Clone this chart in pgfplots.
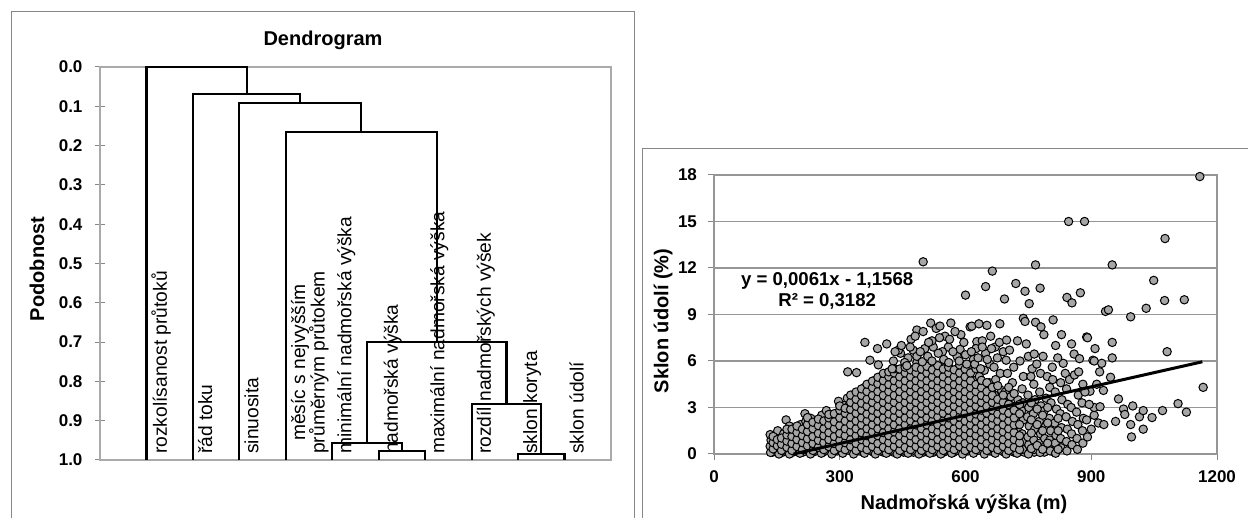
\documentclass[border=0pt]{standalone}
\usepackage{fontspec}
\setmainfont{Liberation Sans}
\usepackage{pgfplots}
\pgfplotsset{compat=1.18}
\definecolor{framegray}{RGB}{135,135,135}
\definecolor{boxgray}{RGB}{170,170,170}
\definecolor{gridgray}{RGB}{150,150,150}
\definecolor{dotfill}{RGB}{166,166,166}

\newcommand{\ticksfont}{\fontsize{8.5pt}{10pt}\selectfont\bfseries}
\newcommand{\labfont}{\fontsize{10pt}{12pt}\selectfont\bfseries}
\newcommand{\leaffont}{\fontsize{9.6pt}{9.8pt}\selectfont}

\pgfplotsset{scatterbox/.style={
    at={(357pt,32pt)}, anchor=south west,
    scale only axis, width=251.5pt, height=139.5pt,
    xmin=0, xmax=1200, ymin=0, ymax=18, clip=false}}

\begin{document}
\begin{tikzpicture}
\path[use as bounding box] (0,0) rectangle (624pt,259pt);

% frames, titles and axis names (1 unit = 1 pixel of the reference)
\begin{scope}[x=0.5pt,y=-0.5pt,yshift=259pt]
  \draw[framegray, line width=0.5pt] (11,540) -- (11,12) -- (634,12) -- (634,540);
  \draw[framegray, line width=0.5pt] (642,540) -- (642,149) -- (1260,149);
  \node[font=\labfont] at (323,40) {Dendrogram};
  \node[font=\labfont, rotate=90] at (37,269) {Podobnost};
  \node[font=\labfont, rotate=90] at (663,321) {Sklon údolí (\%)};
  \node[font=\labfont] at (964,504) {Nadmořská výška (m)};
\end{scope}

% dendrogram
\begin{axis}[
    at={(50pt,29pt)}, anchor=south west,
    scale only axis, width=255.5pt, height=196.5pt,
    xmin=0, xmax=11, ymin=0, ymax=1,
    y dir=reverse,
    xtick=\empty,
    ytick={0,0.1,0.2,0.3,0.4,0.5,0.6,0.7,0.8,0.9,1.0},
    yticklabel style={font=\ticksfont, xshift=-3pt, /pgf/number format/.cd, fixed, fixed zerofill, precision=1, assume math mode=true},
    tick align=center, major tick length=4.5pt,
    ytick pos=left,
    tick style={framegray, line width=0.5pt},
    axis line style={boxgray, line width=0.6pt},
    clip=false,
    dend/.style={black, line width=1.1pt, line join=miter},
]
\addplot[dend] coordinates {(9,1) (9,0.984) (10,0.984) (10,1)};
\addplot[dend] coordinates {(8,1) (8,0.857) (9.5,0.857) (9.5,0.984)};
\addplot[dend] coordinates {(6,1) (6,0.977) (7,0.977) (7,1)};
\addplot[dend] coordinates {(5,1) (5,0.957) (6.5,0.957) (6.5,0.977)};
\addplot[dend] coordinates {(5.75,0.957) (5.75,0.699) (8.75,0.699) (8.75,0.857)};
\addplot[dend] coordinates {(4,1) (4,0.166) (7.25,0.166) (7.25,0.699)};
\addplot[dend] coordinates {(3,1) (3,0.092) (5.625,0.092) (5.625,0.166)};
\addplot[dend] coordinates {(2,1) (2,0.069) (4.3125,0.069) (4.3125,0.092)};
\addplot[dend] coordinates {(1,1) (1,0) (3.15625,0) (3.15625,0.069)};

\begin{scope}[every node/.style={rotate=90, anchor=north west, inner sep=0pt, font=\leaffont}]
\node at (axis cs:1.1,0.985) {rozkolísanost průtoků};
\node at (axis cs:2.1,0.985) {řád toku};
\node at (axis cs:3.1,0.985) {sinuosita};
\node[align=center] at (axis cs:4.1,0.985) {měsíc s nejvyšším\\průměrným průtokem};
\node at (axis cs:5.1,0.985) {minimální nadmořská výška};
\node at (axis cs:6.1,0.985) {nadmořská výška};
\node at (axis cs:7.1,0.985) {maximální nadmořská výška};
\node at (axis cs:8.1,0.985) {rozdíl nadmořských výšek};
\node at (axis cs:9.1,0.985) {sklon koryta};
\node at (axis cs:10.1,0.985) {sklon údolí};
\end{scope}
\end{axis}

% scatter
\begin{axis}[
    scatterbox,
    xtick={0,300,600,900,1200},
    ytick={0,3,6,9,12,15,18},
    xtick pos=left, ytick pos=left,
    tick align=outside, major tick length=3pt,
    tick style={framegray, line width=0.5pt},
    ymajorgrids, grid style={gridgray, line width=0.6pt},
    axis line style={gridgray, line width=0.6pt},
    ticklabel style={font=\ticksfont},
    yticklabel style={xshift=-2pt},
    xticklabel style={yshift=-2pt},
    /pgf/number format/assume math mode=true,
    /pgf/number format/1000 sep={},
]
\addplot[only marks, mark=*, mark size=2.1pt, mark options={fill=dotfill, draw=black, line width=0.5pt}] coordinates {
(140,0.12)(152,0.32)(164,0.12)(176,0.32)(188,0.12)(200,0.32)(212,0.12)(224,0.32)(236,0.12)(248,0.32)
(260,0.12)(272,0.32)(284,0.12)(296,0.32)(308,0.12)(320,0.32)(332,0.12)(344,0.32)(356,0.12)(368,0.32)
(380,0.12)(392,0.32)(404,0.12)(416,0.32)(428,0.12)(440,0.32)(452,0.12)(464,0.32)(476,0.12)(488,0.32)
(500,0.12)(512,0.32)(524,0.12)(536,0.32)(548,0.12)(560,0.32)(572,0.12)(584,0.32)(596,0.12)(608,0.32)
(620,0.12)(632,0.32)(644,0.12)(656,0.32)(668,0.12)(680,0.32)(692,0.12)(704,0.32)(716,0.12)(728,0.32)
(740,0.12)(752,0.32)(764,0.12)(776,0.32)(788,0.12)(800,0.32)(812,0.12)
(135,0.1)(134,0.5)(136,0.9)(134,1.25)
(145,0.3)(146,0.7)(144,1.1)
(155,0.0)(156,0.4)(154,0.8)(152,1.5)
(168,0.2)(167,0.6)(169,1.0)(166,1.3)(172,2.2)
(180,0.0)(181,0.45)(179,0.9)(182,1.4)(180,1.8)
(192,0.25)(193,0.7)(191,1.15)(194,1.6)
(205,0.05)(204,0.5)(206,0.95)(203,1.35)(207,1.9)
(217,0.3)(218,0.75)(216,1.2)(217,2.6)(219,2.1)
(230,0.0)(231,0.45)(229,0.9)(232,1.4)(228,1.85)(231,2.3)
(243,0.2)(242,0.65)(244,1.1)(241,1.6)(245,2.05)
(256,0.05)(257,0.5)(255,0.95)(258,1.4)(254,1.9)(257,2.5)
(268,0.25)(267,0.7)(269,1.15)(266,1.65)(270,2.1)(268,2.8)
(281,0.0)(282,0.45)(280,0.9)(283,1.4)(279,1.85)(282,2.35)
(294,0.2)(293,0.65)(295,1.1)(292,1.6)(296,2.1)(293,2.6)(297,3.4)
(307,0.05)(308,0.5)(306,0.95)(309,1.4)(305,1.9)(308,2.4)(306,2.9)(313,3.15)
(320,0.25)(319,0.7)(321,1.2)(318,1.65)(322,2.15)(319,2.65)(321,3.1)(318,3.6)(319,5.3)
(333,0.0)(334,0.45)(332,0.95)(335,1.4)(331,1.9)(334,2.4)(332,2.85)(335,3.3)(331,3.8)(340,5.25)
(346,0.2)(345,0.7)(347,1.15)(344,1.65)(348,2.1)(345,2.6)(347,3.05)(344,3.55)(348,4.0)
(359,0.05)(360,0.5)(358,0.95)(361,1.4)(357,1.9)(360,2.35)(358,2.85)(361,3.3)(357,3.8)(360,4.3)(360,7.2)
(372,0.25)(371,0.7)(373,1.2)(370,1.65)(374,2.15)(371,2.6)(373,3.1)(370,3.55)(374,4.05)(371,4.5)(372,6.05)
(385,0.0)(386,0.45)(384,0.95)(387,1.4)(383,1.9)(386,2.4)(384,2.85)(387,3.35)(383,3.8)(386,4.3)(384,4.75)
(392,5.75)(390,6.8)
(398,0.2)(397,0.7)(399,1.15)(396,1.65)(400,2.1)(397,2.6)(399,3.1)(396,3.55)(400,4.05)(397,4.5)(399,5.0)
(411,0.05)(412,0.5)(410,0.95)(413,1.4)(409,1.9)(412,2.35)(410,2.85)(413,3.3)(409,3.8)(412,4.25)(410,4.75)(412,7.1)
(424,0.25)(423,0.7)(425,1.2)(422,1.65)(426,2.15)(423,2.6)(425,3.1)(422,3.55)(426,4.05)(423,4.5)(425,5.0)(428,6.0)
(437,0.0)(438,0.45)(436,0.95)(439,1.4)(435,1.9)(438,2.4)(436,2.85)(439,3.35)(435,3.8)(438,4.3)(436,4.75)(439,5.25)
(450,0.2)(449,0.7)(451,1.15)(448,1.65)(452,2.1)(449,2.6)(451,3.1)(448,3.55)(452,4.05)(449,4.5)(451,5.0)(448,5.5)
(463,0.05)(464,0.5)(462,0.95)(465,1.4)(461,1.9)(464,2.35)(462,2.85)(465,3.3)(461,3.8)(464,4.25)(462,4.75)(465,5.2)(463,6.2)
(476,0.25)(475,0.7)(477,1.2)(474,1.65)(478,2.15)(475,2.6)(477,3.1)(474,3.55)(478,4.05)(475,4.5)(477,5.0)(474,5.45)(475,6.7)
(489,0.0)(490,0.45)(488,0.95)(491,1.4)(487,1.9)(490,2.4)(488,2.85)(491,3.35)(487,3.8)(490,4.3)(488,4.75)(491,5.25)(484,5.9)(484,6.3)(484,8.0)
(502,0.2)(501,0.7)(503,1.15)(500,1.65)(504,2.1)(501,2.6)(503,3.1)(500,3.55)(504,4.05)(501,4.5)(503,5.0)(500,5.45)(503,6.8)(499,7.9)(499,12.4)
(515,0.05)(516,0.5)(514,0.95)(517,1.4)(513,1.9)(516,2.35)(514,2.85)(517,3.3)(513,3.8)(516,4.25)(514,4.75)(517,5.2)(527,5.6)(517,8.45)
(528,0.25)(527,0.7)(529,1.2)(526,1.65)(530,2.15)(527,2.6)(529,3.1)(526,3.55)(530,4.05)(527,4.5)(529,5.0)(526,5.45)(523,6.9)(530,8.1)
(541,0.0)(542,0.45)(540,0.95)(543,1.4)(539,1.9)(542,2.4)(540,2.85)(543,3.35)(539,3.8)(542,4.3)(540,4.75)(543,5.25)(551,5.95)(539,8.25)
(554,0.2)(553,0.7)(555,1.15)(552,1.65)(556,2.1)(553,2.6)(555,3.1)(552,3.55)(556,4.05)(553,4.5)(555,5.0)(552,5.5)(551,7.6)
(567,0.05)(568,0.5)(566,0.95)(569,1.4)(565,1.9)(568,2.35)(566,2.85)(569,3.3)(565,3.8)(568,4.25)(566,4.75)(569,5.2)(559,6.9)(565,8.45)
(580,0.25)(579,0.7)(581,1.2)(578,1.65)(582,2.15)(579,2.6)(581,3.1)(578,3.55)(582,4.05)(579,4.5)(581,5.0)(578,5.45)(580,6.3)
(593,0.0)(594,0.45)(592,0.95)(595,1.4)(591,1.9)(594,2.4)(592,2.85)(595,3.35)(591,3.8)(594,4.3)(592,4.75)(595,5.25)(587,6.75)(589,7.7)
(606,0.2)(605,0.7)(607,1.15)(604,1.65)(608,2.1)(605,2.6)(607,3.1)(604,3.55)(608,4.05)(605,4.5)(607,5.0)(604,5.6)(611,8.2)(600,10.25)
(619,0.05)(620,0.5)(618,0.95)(621,1.4)(617,1.9)(620,2.35)(618,2.85)(621,3.3)(617,3.8)(620,4.25)(618,4.75)(619,6.1)(615,8.25)(627,7.25)
(632,0.25)(631,0.7)(633,1.2)(630,1.65)(634,2.15)(631,2.6)(633,3.1)(630,3.55)(634,4.05)(631,4.5)(633,5.0)(640,7.3)(632,8.4)
(645,0.0)(646,0.45)(644,0.95)(647,1.4)(643,1.9)(646,2.4)(644,2.85)(647,3.35)(643,3.8)(646,4.3)(645,5.4)(648,6.5)(648,10.8)
(658,0.2)(657,0.7)(659,1.15)(656,1.65)(660,2.1)(657,2.6)(659,3.1)(656,3.55)(660,4.05)(657,4.6)(658,5.8)(651,8.3)(664,11.8)
(671,0.05)(672,0.5)(670,0.95)(673,1.4)(669,1.9)(672,2.35)(670,2.85)(673,3.3)(669,3.8)(672,4.8)(671,6.9)
(684,0.25)(683,0.7)(685,1.2)(682,1.65)(686,2.15)(683,2.6)(685,3.1)(682,3.55)(686,4.1)(683,5.2)(681,7.2)(682,8.4)
(697,0.0)(698,0.45)(696,0.95)(699,1.4)(695,1.9)(698,2.4)(696,2.85)(699,3.35)(695,4.0)(697,6.05)(698,7.35)(693,10.0)
(710,0.2)(709,0.7)(711,1.15)(708,1.65)(712,2.1)(709,2.6)(711,3.1)(708,3.7)(712,4.6)
(723,0.05)(724,0.5)(722,1.0)(725,1.5)(721,1.9)(724,2.5)(722,3.0)(725,3.5)(724,7.3)(720,11.0)
(736,0.3)(737,0.8)(735,1.3)(738,2.2)(734,2.8)(737,3.3)(735,4.2)(738,5.0)(738,8.75)
(742,10.5)(742,8.55)
(750,0.0)(751,0.6)(749,1.1)(752,1.8)(748,2.4)(751,3.0)(749,3.8)(750,6.3)(752,9.7)
(764,0.3)(763,0.9)(765,1.6)(762,2.6)(766,3.5)(763,4.5)(764,6.45)(767,8.5)(767,12.2)(759,5.5)
(778,0.1)(777,0.7)(779,1.3)(776,2.1)(780,3.1)(777,4.0)(779,5.2)(780,8.2)(778,10.7)
(790,0.5)(789,1.0)(791,1.8)(788,2.8)(792,3.6)(787,7.7)
(802,0.2)(801,0.9)(803,1.5)(800,2.3)(804,3.3)(801,4.3)(807,5.6)(809,8.65)
(815,0.05)(814,0.7)(816,1.2)(813,2.0)(817,2.9)(814,4.0)(815,7.0)
(828,0.4)(827,1.0)(829,1.7)(826,2.6)(830,3.5)(827,4.6)(833,5.85)(829,7.7)
(842,0.2)(841,0.8)(843,1.6)(840,2.4)(844,3.2)(841,4.2)(859,6.45)(842,10.1)(846,15.0)
(854,0.6)(853,1.3)(855,2.1)(852,3.0)(853,7.1)(854,9.75)
(867,0.3)(866,1.0)(868,1.9)(865,2.7)(869,3.8)(872,6.15)(874,10.4)
(880,0.7)(879,1.5)(881,2.3)(878,3.3)(880,4.5)(884,15.0)
(889,7.55)(889,2.2)(891,1.1)(897,4.05)(891,7.5)(904,6.05)
(907,2.5)(907,3.0)(907,6.0)(909,6.8)(917,2.0)(920,5.3)(921,3.05)(925,5.85)(929,4.1)(930,1.9)
(934,9.2)(941,9.3)(946,4.95)(950,6.2)(950,7.2)(950,12.2)(958,2.1)(965,3.55)(977,2.9)(980,2.55)
(994,1.9)(994,8.85)(996,1.1)(999,3.1)(1015,2.4)(1024,2.8)(1024,1.6)(1031,9.4)(1045,2.35)(1049,11.2)
(1070,2.8)(1075,9.9)(1076,13.9)(1081,6.6)(1107,3.25)(1122,9.95)(1127,2.7)(1159,17.9)(1167,4.3)
(445,6.5)(470,7.4)(520,7.3)(545,6.6)(575,7.9)(600,6.4)(625,6.8)(660,7.6)(690,6.6)(455,5.9)(440,6.7)
(141,0.33)(141,0.73)(141,1.13)(151,0.53)(151,0.93)(161,0.23)(161,0.63)(161,1.03)
(174,0.43)(174,0.83)(174,1.23)(174,1.6)(186,0.23)(186,0.68)(186,1.13)(186,1.6)
(198,0.48)(198,0.93)(198,1.38)(198,1.8)(211,0.28)(211,0.73)(211,1.18)(211,1.6)
(223,0.53)(223,0.98)(223,1.45)(223,1.9)(223,2.35)(236,0.23)(236,0.68)(236,1.13)(236,1.63)(236,2.05)
(249,0.43)(249,0.88)(249,1.33)(249,1.83)(249,2.25)(262,0.28)(262,0.73)(262,1.18)(262,1.63)(262,2.13)
(274,0.48)(274,0.93)(274,1.38)(274,1.88)(274,2.33)(274,2.55)(287,0.23)(287,0.68)(287,1.13)(287,1.63)(287,2.08)(287,2.6)
(300,0.43)(300,0.88)(300,1.33)(300,1.83)(300,2.33)(300,2.83)(300,3.1)
(313,0.28)(313,0.73)(313,1.18)(313,1.63)(313,2.13)(313,2.63)(313,2.95)
(326,0.48)(326,0.93)(326,1.43)(326,1.88)(326,2.38)(326,2.88)(326,3.33)(326,3.8)
(339,0.23)(339,0.68)(339,1.18)(339,1.63)(339,2.13)(339,2.63)(339,3.08)(339,3.53)(339,4.0)
(352,0.43)(352,0.93)(352,1.38)(352,1.88)(352,2.33)(352,2.83)(352,3.28)(352,3.78)(352,4.2)
(365,0.28)(365,0.73)(365,1.18)(365,1.63)(365,2.13)(365,2.58)(365,3.08)(365,3.53)(365,4.03)(365,4.5)
(378,0.48)(378,0.93)(378,1.43)(378,1.88)(378,2.38)(378,2.83)(378,3.33)(378,3.78)(378,4.28)(378,4.7)
(391,0.23)(391,0.68)(391,1.18)(391,1.63)(391,2.13)(391,2.63)(391,3.08)(391,3.58)(391,4.03)(391,4.53)(391,4.95)
(404,0.43)(404,0.93)(404,1.38)(404,1.88)(404,2.33)(404,2.83)(404,3.33)(404,3.78)(404,4.28)(404,4.73)(404,5.2)
(417,0.28)(417,0.73)(417,1.18)(417,1.63)(417,2.13)(417,2.58)(417,3.08)(417,3.53)(417,4.03)(417,4.48)(417,4.98)(417,5.3)
(430,0.48)(430,0.93)(430,1.43)(430,1.88)(430,2.38)(430,2.83)(430,3.33)(430,3.78)(430,4.28)(430,4.73)(430,5.23)(430,5.5)
(443,0.23)(443,0.68)(443,1.18)(443,1.63)(443,2.13)(443,2.63)(443,3.08)(443,3.58)(443,4.03)(443,4.53)(443,4.98)(443,5.48)
(456,0.43)(456,0.93)(456,1.38)(456,1.88)(456,2.33)(456,2.83)(456,3.33)(456,3.78)(456,4.28)(456,4.73)(456,5.23)(456,5.6)
(469,0.28)(469,0.73)(469,1.18)(469,1.63)(469,2.13)(469,2.58)(469,3.08)(469,3.53)(469,4.03)(469,4.48)(469,4.98)(469,5.43)
(482,0.48)(482,0.93)(482,1.43)(482,1.88)(482,2.38)(482,2.83)(482,3.33)(482,3.78)(482,4.28)(482,4.73)(482,5.23)(482,5.6)
(495,0.23)(495,0.68)(495,1.18)(495,1.63)(495,2.13)(495,2.63)(495,3.08)(495,3.58)(495,4.03)(495,4.53)(495,4.98)(495,5.48)
(508,0.43)(508,0.93)(508,1.38)(508,1.88)(508,2.33)(508,2.83)(508,3.33)(508,3.78)(508,4.28)(508,4.73)(508,5.23)(508,5.65)
(521,0.28)(521,0.73)(521,1.18)(521,1.63)(521,2.13)(521,2.58)(521,3.08)(521,3.53)(521,4.03)(521,4.48)(521,4.98)(521,5.43)
(534,0.48)(534,0.93)(534,1.43)(534,1.88)(534,2.38)(534,2.83)(534,3.33)(534,3.78)(534,4.28)(534,4.73)(534,5.23)(534,5.7)
(547,0.23)(547,0.68)(547,1.18)(547,1.63)(547,2.13)(547,2.63)(547,3.08)(547,3.58)(547,4.03)(547,4.53)(547,4.98)(547,5.48)
(560,0.43)(560,0.93)(560,1.38)(560,1.88)(560,2.33)(560,2.83)(560,3.33)(560,3.78)(560,4.28)(560,4.73)(560,5.23)(560,5.6)
(573,0.28)(573,0.73)(573,1.18)(573,1.63)(573,2.13)(573,2.58)(573,3.08)(573,3.53)(573,4.03)(573,4.48)(573,4.98)(573,5.43)
(586,0.48)(586,0.93)(586,1.43)(586,1.88)(586,2.38)(586,2.83)(586,3.33)(586,3.78)(586,4.28)(586,4.73)(586,5.23)(586,5.75)
(599,0.23)(599,0.68)(599,1.18)(599,1.63)(599,2.13)(599,2.63)(599,3.08)(599,3.58)(599,4.03)(599,4.53)(599,4.98)(599,5.48)
(612,0.43)(612,0.93)(612,1.38)(612,1.88)(612,2.33)(612,2.83)(612,3.33)(612,3.78)(612,4.28)(612,4.73)(612,5.23)
(625,0.28)(625,0.73)(625,1.18)(625,1.63)(625,2.13)(625,2.58)(625,3.08)(625,3.53)(625,4.03)(625,4.48)(625,5.5)
(638,0.48)(638,0.93)(638,1.43)(638,1.88)(638,2.38)(638,2.83)(638,3.33)(638,3.78)(638,4.28)(638,4.75)
(651,0.23)(651,0.68)(651,1.18)(651,1.63)(651,2.13)(651,2.63)(651,3.08)(651,3.58)(651,4.03)(651,4.6)
(664,0.43)(664,0.93)(664,1.38)(664,1.88)(664,2.33)(664,2.83)(664,3.33)(664,3.78)(664,4.3)
(677,0.28)(677,0.73)(677,1.18)(677,1.63)(677,2.13)(677,2.58)(677,3.08)(677,3.53)(677,4.4)
(690,0.48)(690,0.93)(690,1.43)(690,1.88)(690,2.38)(690,2.83)(690,3.33)(690,3.8)
(703,0.23)(703,0.68)(703,1.18)(703,1.63)(703,2.13)(703,2.63)(703,3.2)(703,4.3)
(716,0.43)(716,0.93)(716,1.38)(716,1.88)(716,2.33)(716,2.83)(716,3.9)
(729,0.28)(729,0.73)(729,1.18)(729,1.9)(729,2.6)(729,3.2)
(757,0.35)(757,1.35)(757,2.2)(757,3.3)(771,0.55)(771,1.9)(771,2.9)(784,0.3)(784,1.5)(784,2.5)
(796,0.7)(796,2.0)(796,3.0)(821,0.3)(821,1.5)(821,2.3)
(425,5.5)(432,6.6)(447,7.0)(460,5.7)(468,6.9)(480,7.6)(492,6.6)(497,5.95)(510,6.3)(512,7.2)
(520,6.0)(535,6.5)(538,7.5)(548,6.1)(560,5.9)(562,7.4)(570,6.6)(585,6.0)(596,7.2)(603,5.8)
(614,6.6)(622,5.8)(630,6.2)(636,5.5)(640,6.9)(652,6.1)(662,6.8)(668,5.6)(676,6.2)(700,5.2)
(705,6.7)(715,5.6)(730,6.0)(745,7.1)(756,5.0)(770,5.8)(785,6.3)(795,5.0)(808,4.8)(820,6.2)
(838,5.2)(848,4.8)(860,5.1)(870,5.3)(885,4.0)(895,3.2)(900,1.6)(913,4.5)
};
\end{axis}

% trend line and equation on top of the markers
\begin{axis}[scatterbox, hide axis]
\addplot[black, line width=1.5pt] coordinates {(190,0.002) (1165,5.95)};
\node[font=\fontsize{9.3pt}{10.5pt}\selectfont\bfseries, align=center] at (axis cs:270,10.55) {y = 0,0061x - 1,1568\\R² = 0,3182};
\end{axis}
\end{tikzpicture}
\end{document}
